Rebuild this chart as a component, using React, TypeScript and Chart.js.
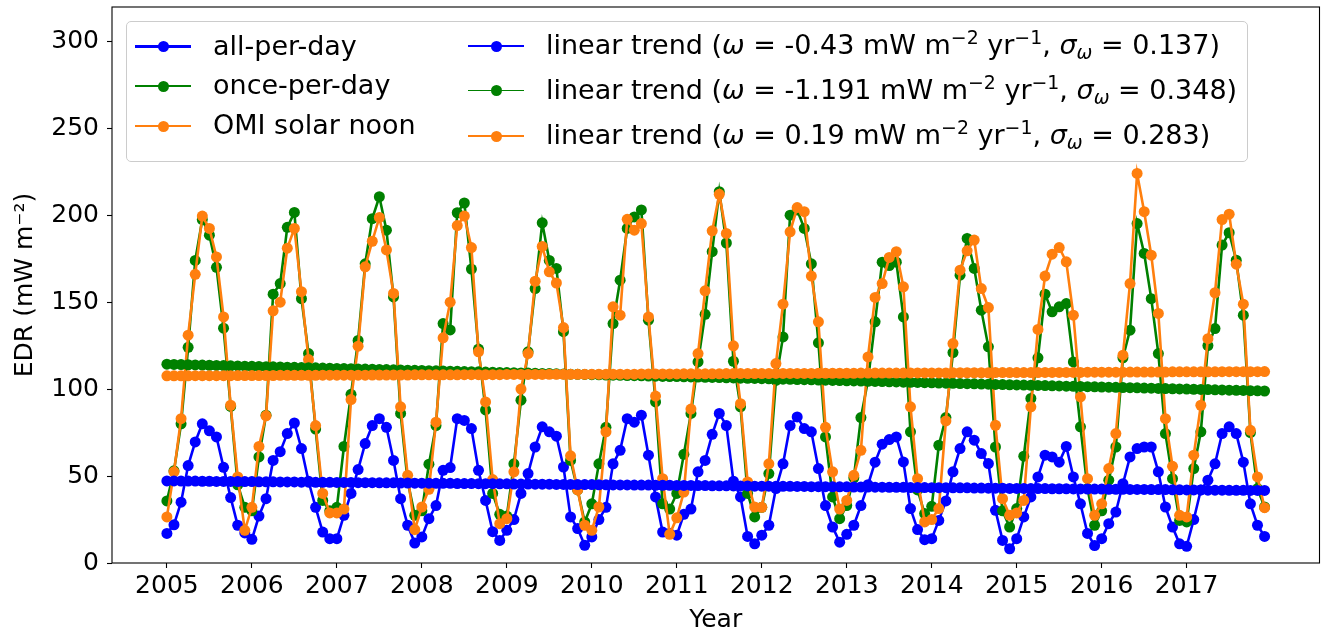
import React, { useEffect, useRef } from "react";
import { Chart, registerables } from "chart.js";

Chart.register(...registerables);

// ---------------- data ----------------
const FIRST_YEAR = 2005;
const MONTHS_PER_YEAR = 12;

const xTickYears = [2005, 2006, 2007, 2008, 2009, 2010, 2011, 2012, 2013, 2014, 2015, 2016, 2017];
const yTicks = [0, 50, 100, 150, 200, 250, 300];

// monthly EDR, all-per-day (Jan 2005 .. Dec 2017)
const allPerDay = [
  17, 22, 35, 56, 69.6, 80, 76, 72.5, 55, 37.6, 21.7, 17.3,
  13.6, 27, 37, 59, 64, 74.4, 80.5, 65.8, 47, 32, 17.8, 14,
  14, 27.4, 40, 53.7, 68.7, 79, 83, 78, 59, 37, 21.7, 11.5,
  15, 25.5, 33, 53.3, 54.9, 83, 82, 77.3, 53.3, 36, 18, 13,
  18.8, 25, 40, 51.4, 66.7, 78.3, 75.4, 72.9, 55.2, 26.5, 19.8, 10.2,
  15, 25, 32, 57, 64.8, 83, 81, 85, 62, 38, 17.8, 16.9,
  16, 28, 31, 52.4, 59, 74, 86, 79, 47, 38, 15.3, 11,
  16, 21.7, 42.8, 57, 79, 84, 77.3, 75.4, 54.3, 33, 20.7, 12,
  16.5, 21.7, 33, 45, 58, 68.3, 71, 72.5, 58.1, 31.3, 19.2, 13.4,
  14, 24.5, 35.7, 52.4, 65.8, 75.4, 70.6, 62.9, 57.2, 30.3, 13, 8.2,
  14, 26.5, 38, 49.5, 62, 61, 58, 67, 49.5, 34, 17, 10,
  14, 22.6, 29.3, 45.6, 61, 65.8, 66.7, 66.7, 52.4, 32.2, 20.7, 11,
  9.6, 25, 42, 47.6, 57, 74.4, 78.3, 74.4, 58, 34, 21.7, 15.3,
];

const oncePerDay = [
  35.7, 53, 80, 124, 174, 197.5, 188.5, 170, 135, 90, 45, 32,
  30, 61, 85, 154.6, 160.7, 193, 201.6, 152, 120.4, 77, 36, 30,
  32, 67, 97, 128, 172, 198, 210.6, 191.4, 153, 86, 47, 27.4,
  30, 56.8, 79, 137.7, 134, 201.4, 207, 169, 123, 88, 40, 28,
  27, 57, 93.6, 121.4, 157.8, 195.6, 174, 169.4, 133, 59, 42, 23.6,
  34, 57, 78, 137.7, 162.6, 192.4, 199, 203, 139.6, 92.6, 34, 31,
  40, 62.5, 86, 115.6, 143, 179, 213.5, 184, 116, 89.8, 40, 26.5,
  32, 51.4, 105, 130, 200, 203, 192.4, 172, 126.6, 72.5, 38, 25.5,
  33, 49, 83.6, 105, 138.7, 173, 171, 173, 141.5, 75.4, 42, 28.4,
  32.6, 67.7, 83.6, 121, 165.5, 186.6, 169.4, 145.4, 124.3, 66.7, 30, 20.7,
  31.3, 61.4, 94.6, 118, 154.6, 144.4, 147.3, 149.2, 115.6, 78.3, 42.8, 21.7,
  30, 47.6, 66.7, 118, 133.9, 195.2, 178, 152, 120.4, 74.4, 48.5, 24.5,
  23.6, 54.3, 75.4, 125, 134.8, 182.8, 189.9, 174.1, 142.5, 75, 42.8, 32.2,
];

const omiSolarNoon = [
  26.5, 52.4, 83, 131, 166, 199.5, 192.4, 176, 141.5, 90.7, 49.5, 18.8,
  32, 67, 84.6, 145, 150, 181, 192.4, 156, 117, 79, 40, 28.8,
  28.8, 31, 94, 124.7, 170.3, 185, 198.7, 180, 155, 89.8, 50.4, 19.2,
  32.2, 42.4, 81, 129.5, 150, 194, 199.5, 181.4, 121.4, 92.6, 48, 22.6,
  25.5, 52.4, 100, 120.4, 162, 182, 167.4, 161, 135.4, 61.6, 42, 21.7,
  18.8, 32.2, 75.4, 147.3, 142.5, 197.6, 191.4, 195.2, 141.5, 96, 48.5, 16.5,
  26, 40.8, 88.5, 120.4, 156.5, 191, 212, 189.5, 124.9, 91.6, 46.6, 32.2,
  32, 57, 114.7, 148.8, 190.4, 204.4, 202, 165, 138.7, 78, 52.4, 31,
  36, 50.4, 64.8, 118.5, 152.7, 160.7, 175.7, 179, 158.8, 89.8, 48.5, 23.6,
  25, 31.3, 81.7, 126.2, 168.4, 179.5, 185.7, 157.8, 146.9, 79.2, 37, 27.4,
  28.8, 36, 89.8, 134.3, 165, 177.6, 181.4, 173.2, 142.5, 95.5, 48.5, 27.4,
  34, 54.3, 74.4, 119.5, 160.7, 224, 202, 177, 143.5, 83, 55.6, 27.4,
  26.5, 62, 90.7, 129, 155.4, 197.5, 200.6, 171.8, 148.8, 76.3, 49.5, 31.8,
];

// linear trend lines
const trendAllPerDay = [
  47.2, 47.2, 47.1, 47.1, 47.1, 47.0, 47.0, 46.9, 46.9, 46.9, 46.8, 46.8,
  46.8, 46.7, 46.7, 46.7, 46.6, 46.6, 46.6, 46.5, 46.5, 46.4, 46.4, 46.4,
  46.3, 46.3, 46.3, 46.2, 46.2, 46.2, 46.1, 46.1, 46.1, 46.0, 46.0, 45.9,
  45.9, 45.9, 45.8, 45.8, 45.8, 45.7, 45.7, 45.7, 45.6, 45.6, 45.6, 45.5,
  45.5, 45.4, 45.4, 45.4, 45.3, 45.3, 45.3, 45.2, 45.2, 45.2, 45.1, 45.1,
  45.1, 45.0, 45.0, 44.9, 44.9, 44.9, 44.8, 44.8, 44.8, 44.7, 44.7, 44.7,
  44.6, 44.6, 44.6, 44.5, 44.5, 44.4, 44.4, 44.4, 44.3, 44.3, 44.3, 44.2,
  44.2, 44.2, 44.1, 44.1, 44.1, 44.0, 44.0, 43.9, 43.9, 43.9, 43.8, 43.8,
  43.8, 43.7, 43.7, 43.7, 43.6, 43.6, 43.5, 43.5, 43.5, 43.4, 43.4, 43.4,
  43.3, 43.3, 43.3, 43.2, 43.2, 43.2, 43.1, 43.1, 43.0, 43.0, 43.0, 42.9,
  42.9, 42.9, 42.8, 42.8, 42.8, 42.7, 42.7, 42.7, 42.6, 42.6, 42.5, 42.5,
  42.5, 42.4, 42.4, 42.4, 42.3, 42.3, 42.3, 42.2, 42.2, 42.2, 42.1, 42.1,
  42.0, 42.0, 42.0, 41.9, 41.9, 41.9, 41.8, 41.8, 41.8, 41.7, 41.7, 41.7,
];

const trendOncePerDay = [
  114.3, 114.2, 114.1, 114.0, 113.9, 113.8, 113.7, 113.6, 113.5, 113.4, 113.3, 113.2,
  113.1, 113.0, 112.9, 112.8, 112.7, 112.6, 112.5, 112.4, 112.3, 112.2, 112.1, 112.0,
  111.9, 111.8, 111.7, 111.6, 111.5, 111.4, 111.3, 111.2, 111.1, 111.0, 110.9, 110.8,
  110.7, 110.6, 110.5, 110.4, 110.3, 110.2, 110.1, 110.0, 109.9, 109.8, 109.7, 109.6,
  109.5, 109.4, 109.3, 109.2, 109.1, 109.0, 108.9, 108.8, 108.7, 108.6, 108.5, 108.4,
  108.3, 108.2, 108.1, 108.0, 107.9, 107.8, 107.7, 107.6, 107.5, 107.4, 107.3, 107.2,
  107.2, 107.1, 107.0, 106.9, 106.8, 106.7, 106.6, 106.5, 106.4, 106.3, 106.2, 106.1,
  106.0, 105.9, 105.8, 105.7, 105.6, 105.5, 105.4, 105.3, 105.2, 105.1, 105.0, 104.9,
  104.8, 104.7, 104.6, 104.5, 104.4, 104.3, 104.2, 104.1, 104.0, 103.9, 103.8, 103.7,
  103.6, 103.5, 103.4, 103.3, 103.2, 103.1, 103.0, 102.9, 102.8, 102.7, 102.6, 102.5,
  102.4, 102.3, 102.2, 102.1, 102.0, 101.9, 101.8, 101.7, 101.6, 101.5, 101.4, 101.3,
  101.2, 101.1, 101.0, 100.9, 100.8, 100.7, 100.6, 100.5, 100.4, 100.3, 100.2, 100.1,
  100.0, 99.9, 99.8, 99.7, 99.6, 99.5, 99.4, 99.3, 99.2, 99.1, 99.0, 98.9,
];

const trendOmiSolarNoon = [
  107.6, 107.6, 107.6, 107.6, 107.7, 107.7, 107.7, 107.7, 107.7, 107.7, 107.8, 107.8,
  107.8, 107.8, 107.8, 107.8, 107.9, 107.9, 107.9, 107.9, 107.9, 107.9, 108.0, 108.0,
  108.0, 108.0, 108.0, 108.0, 108.0, 108.1, 108.1, 108.1, 108.1, 108.1, 108.1, 108.2,
  108.2, 108.2, 108.2, 108.2, 108.2, 108.2, 108.3, 108.3, 108.3, 108.3, 108.3, 108.3,
  108.4, 108.4, 108.4, 108.4, 108.4, 108.4, 108.5, 108.5, 108.5, 108.5, 108.5, 108.5,
  108.6, 108.6, 108.6, 108.6, 108.6, 108.6, 108.6, 108.7, 108.7, 108.7, 108.7, 108.7,
  108.7, 108.8, 108.8, 108.8, 108.8, 108.8, 108.8, 108.9, 108.9, 108.9, 108.9, 108.9,
  108.9, 108.9, 109.0, 109.0, 109.0, 109.0, 109.0, 109.0, 109.1, 109.1, 109.1, 109.1,
  109.1, 109.1, 109.2, 109.2, 109.2, 109.2, 109.2, 109.2, 109.2, 109.3, 109.3, 109.3,
  109.3, 109.3, 109.3, 109.4, 109.4, 109.4, 109.4, 109.4, 109.4, 109.5, 109.5, 109.5,
  109.5, 109.5, 109.5, 109.5, 109.6, 109.6, 109.6, 109.6, 109.6, 109.6, 109.7, 109.7,
  109.7, 109.7, 109.7, 109.7, 109.8, 109.8, 109.8, 109.8, 109.8, 109.8, 109.9, 109.9,
  109.9, 109.9, 109.9, 109.9, 109.9, 110.0, 110.0, 110.0, 110.0, 110.0, 110.0, 110.1,
];

const seriesLabels = ["all-per-day", "once-per-day", "OMI solar noon"];
const trendSlopes = ["-0.43", "-1.191", "0.19"];
const trendSigmas = ["0.137", "0.348", "0.283"];

const BLUE = "#0000ff";
const GREEN = "#008000";
const ORANGE = "#ff7f0e";
const FONT = "'DejaVu Sans', 'Liberation Sans', sans-serif";

// ---------------- geometry ----------------
const W = 1325;
const H = 636;
const PLOT_LEFT = 112;
const PLOT_TOP = 7;
const PLOT_RIGHT = 1320;
const PLOT_BOTTOM = 563;
const X_MIN = 2004.354;
const X_MAX = 2018.563;
const Y_MAX = 319.7;
const LEGEND_FONT = 27;

const toPoints = (vals: number[]) =>
  vals.map((v, i) => ({ x: FIRST_YEAR + i / MONTHS_PER_YEAR, y: v }));

const framePlugin = {
  id: "frame",
  afterDatasetsDraw(chart: any) {
    const { ctx, chartArea } = chart;
    ctx.save();
    ctx.strokeStyle = "#000";
    ctx.lineWidth = 1.1;
    ctx.strokeRect(chartArea.left, chartArea.top, chartArea.right - chartArea.left, chartArea.bottom - chartArea.top);
    ctx.restore();
  },
};

function Handle({ color, lw }: { color: string; lw: number }) {
  return (
    <div style={{ position: "relative", width: 56, height: 12 }}>
      <div style={{ position: "absolute", left: 0, right: 0, top: 6 - lw / 2, height: lw, background: color }} />
      <div
        style={{
          position: "absolute",
          left: 22.5,
          top: 0.5,
          width: 11,
          height: 11,
          borderRadius: "50%",
          background: color,
        }}
      />
    </div>
  );
}

const supStyle: React.CSSProperties = { fontSize: "0.7em", verticalAlign: "0.55em", lineHeight: 0 };
const subStyle: React.CSSProperties = { fontSize: "0.7em", verticalAlign: "-0.25em", lineHeight: 0 };

function TrendText({ slope, sigma }: { slope: string; sigma: string }) {
  return (
    <span>
      linear trend (<i>ω</i> = {slope} mW m<span style={supStyle}>−2</span> yr<span style={supStyle}>−1</span>,{" "}
      <i>σ</i>
      <span style={subStyle}>
        <i>ω</i>
      </span>{" "}
      = {sigma})
    </span>
  );
}

export default function App() {
  const canvasRef = useRef<HTMLCanvasElement | null>(null);

  useEffect(() => {
    const canvas = canvasRef.current;
    if (!canvas) return;
    const mk = (label: string, vals: number[], color: string, lw: number, order: number) => ({
      label,
      data: toPoints(vals),
      borderColor: color,
      backgroundColor: color,
      borderWidth: lw,
      pointRadius: 5.5,
      pointBorderWidth: 0,
      pointHoverRadius: 5.5,
      pointBackgroundColor: color,
      tension: 0,
      fill: false,
      order,
    });
    const chart = new Chart(canvas, {
      type: "line",
      data: {
        datasets: [
          mk(seriesLabels[0], allPerDay, BLUE, 2.6, 6),
          mk(seriesLabels[1], oncePerDay, GREEN, 2.6, 5),
          mk(seriesLabels[2], omiSolarNoon, ORANGE, 2.6, 4),
          mk("trend " + seriesLabels[0], trendAllPerDay, BLUE, 1.6, 3),
          mk("trend " + seriesLabels[1], trendOncePerDay, GREEN, 1.6, 2),
          mk("trend " + seriesLabels[2], trendOmiSolarNoon, ORANGE, 1.6, 1),
        ],
      },
      options: {
        animation: false,
        responsive: false,
        maintainAspectRatio: false,
        devicePixelRatio: 1,
        events: [],
        layout: { padding: { top: PLOT_TOP, right: W - PLOT_RIGHT, left: 0, bottom: 0 } },
        plugins: { legend: { display: false }, tooltip: { enabled: false } },
        scales: {
          x: {
            type: "linear",
            min: X_MIN,
            max: X_MAX,
            afterBuildTicks: (s: any) => {
              s.ticks = xTickYears.map((v) => ({ value: v }));
            },
            afterFit: (s: any) => {
              s.height = H - PLOT_BOTTOM;
              s.paddingLeft = 0;
              s.paddingRight = 0;
            },
            ticks: {
              autoSkip: false,
              maxRotation: 0,
              minRotation: 0,
              padding: 3,
              color: "#000",
              font: { family: FONT, size: 25 },
              callback: (v: any) => String(v),
            },
            grid: { drawOnChartArea: false, drawTicks: true, tickLength: 5, tickWidth: 1.1, tickColor: "#000" },
            border: { display: false },
            title: {
              display: true,
              text: "Year",
              color: "#000",
              font: { family: FONT, size: 25 },
              padding: { top: 0, bottom: 1 },
            },
          },
          y: {
            type: "linear",
            min: 0,
            max: Y_MAX,
            afterBuildTicks: (s: any) => {
              s.ticks = yTicks.map((v) => ({ value: v }));
            },
            afterFit: (s: any) => {
              s.width = PLOT_LEFT;
              s.paddingTop = 0;
              s.paddingBottom = 0;
            },
            ticks: {
              padding: 8,
              color: "#000",
              font: { family: FONT, size: 25 },
              callback: (v: any) => String(v),
            },
            grid: { drawOnChartArea: false, drawTicks: true, tickLength: 5, tickWidth: 1.1, tickColor: "#000" },
            border: { display: false },
            title: {
              display: true,
              text: "EDR (mW m⁻²)",
              color: "#000",
              font: { family: FONT, size: 25 },
              padding: { top: 10, bottom: 0 },
            },
          },
        },
      },
      plugins: [framePlugin],
    } as any);
    return () => chart.destroy();
  }, []);

  const col1Rows = [46.7, 86, 126];
  const col2Rows = [46, 90.7, 136];
  const colors = [BLUE, GREEN, ORANGE];

  return (
    <div style={{ position: "fixed", left: 0, top: 0, width: W, height: H, background: "#fff", overflow: "hidden" }}>
      <canvas ref={canvasRef} width={W} height={H} style={{ position: "absolute", left: 0, top: 0, width: W, height: H }} />
      <div
        style={{
          position: "absolute",
          left: 126,
          top: 21,
          width: 1122,
          height: 141,
          border: "1px solid #cccccc",
          borderRadius: 5,
          background: "rgba(255,255,255,0.8)",
          boxSizing: "border-box",
        }}
      />
      {col1Rows.map((cy, k) => (
        <React.Fragment key={"c1" + k}>
          <div style={{ position: "absolute", left: 135, top: cy - 6 }}>
            <Handle color={colors[k]} lw={2.4} />
          </div>
          <div
            style={{
              position: "absolute",
              left: 213,
              top: cy - 18,
              fontFamily: FONT,
              fontSize: LEGEND_FONT,
              lineHeight: "34px",
              whiteSpace: "nowrap",
              color: "#000",
            }}
          >
            {seriesLabels[k]}
          </div>
        </React.Fragment>
      ))}
      {col2Rows.map((cy, k) => (
        <React.Fragment key={"c2" + k}>
          <div style={{ position: "absolute", left: 468, top: cy - 6 }}>
            <Handle color={colors[k]} lw={1.6} />
          </div>
          <div
            style={{
              position: "absolute",
              left: 546,
              top: cy - 18,
              fontFamily: FONT,
              fontSize: LEGEND_FONT,
              lineHeight: "34px",
              whiteSpace: "nowrap",
              color: "#000",
            }}
          >
            <TrendText slope={trendSlopes[k]} sigma={trendSigmas[k]} />
          </div>
        </React.Fragment>
      ))}
    </div>
  );
}
